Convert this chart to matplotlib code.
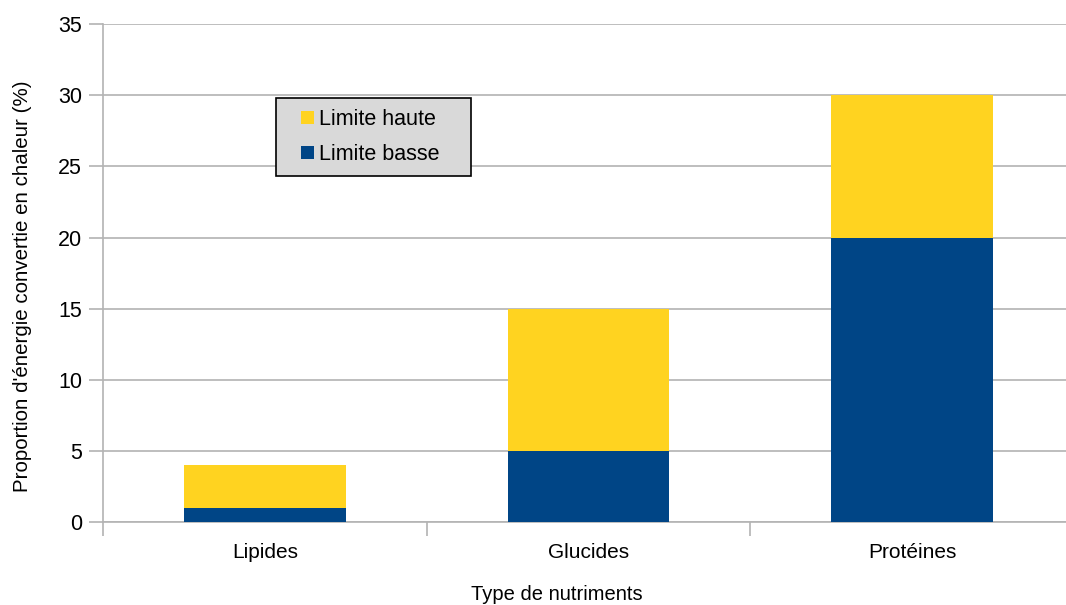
import matplotlib
matplotlib.use("Agg")
import matplotlib.pyplot as plt
from matplotlib.patches import Patch, Rectangle
import numpy as np

categories = ["Lipides", "Glucides", "Protéines"]
limite_basse = [1, 5, 20]
limite_haute_totale = [4, 15, 30]
limite_haute = [h - b for h, b in zip(limite_haute_totale, limite_basse)]
yticks = [0, 5, 10, 15, 20, 25, 30, 35]

blue = "#004586"
yellow = "#FFD320"
grid_c = "#b3b3b3"

plt.rcParams['font.family'] = ['Liberation Sans', 'DejaVu Sans']

fig = plt.figure(figsize=(10.66, 6.05), dpi=100)
ax = fig.add_axes([0.0966, 0.137, 0.9034, 0.823])

x = np.arange(len(categories))
ax.bar(x, limite_basse, width=0.5, color=blue, zorder=3)
ax.bar(x, limite_haute, width=0.5, bottom=limite_basse, color=yellow, zorder=3)

ax.set_xlim(-0.497, 2.475)
ax.set_ylim(0, 35)
ax.set_yticks(yticks)
ax.yaxis.grid(True, color=grid_c, linewidth=1.2, zorder=0)
ax.set_axisbelow(True)

ax.set_xticks(x)
ax.set_xticklabels(categories, fontsize=15)
ax.tick_params(axis='x', length=0, pad=15)
ax.set_xticks([-0.5, 0.5, 1.5], minor=True)
ax.tick_params(axis='x', which='minor', length=10, color=grid_c, width=1.2)
ax.tick_params(axis='y', length=10, color=grid_c, width=1.2, labelsize=15.5, pad=5)

for s in ['top', 'right']:
    ax.spines[s].set_visible(False)
for s in ['left', 'bottom']:
    ax.spines[s].set_color(grid_c)
    ax.spines[s].set_linewidth(1.2)

ax.set_ylabel("Proportion d'énergie convertie en chaleur (%)", fontsize=14.8)
ax.yaxis.set_label_coords(-0.0737, 0.474)
ax.set_xlabel("Type de nutriments", fontsize=14.5)
ax.xaxis.set_label_coords(0.4714, -0.127)

# legend box
box = Rectangle((276 / 1066, 1 - 176 / 605), 195 / 1066, 78 / 605,
                transform=fig.transFigure, facecolor="#d9d9d9",
                edgecolor="black", linewidth=1.2, zorder=4)
fig.patches.append(box)

handles = [Patch(facecolor=yellow, label="Limite haute"),
           Patch(facecolor=blue, label="Limite basse")]
leg = fig.legend(handles=handles, loc='center left',
                 bbox_to_anchor=(301 / 1066, 1 - 137 / 605),
                 fontsize=15.5, frameon=False, handlelength=0.6,
                 handleheight=0.6, handletextpad=0.25, borderpad=0,
                 labelspacing=0.65, borderaxespad=0)
leg.set_zorder(5)

fig.savefig("out.png", dpi=100)
